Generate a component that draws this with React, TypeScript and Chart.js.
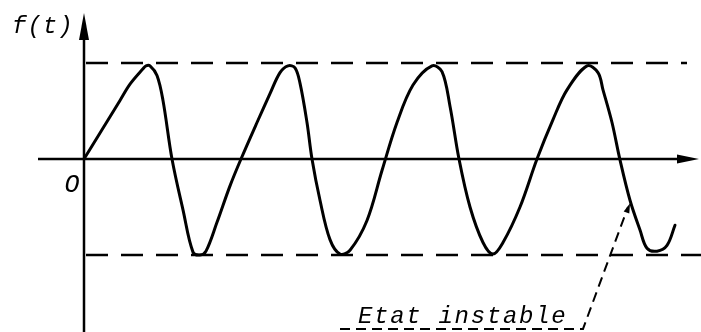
import React, { useEffect, useRef } from "react";
import { Chart, registerables } from "chart.js";

Chart.register(...registerables);

// Curve f(t)
const tValues = [0, 1.6, 3.6, 4.6, 5.9, 6.2, 6.6, 7.3, 7.9, 8.8, 9.9, 10.9, 11.6, 12.2, 13.3, 14.6, 15.7, 17.3, 18.6, 19.6, 20.4, 21.1, 21.6, 22.3, 22.8, 23.6, 24.6, 25.6, 26.6, 28.3, 29.8, 31.3, 32.9, 34.8, 35.8, 36.6, 37.5, 38.6, 39.9, 40.9, 41.9, 43.6, 45.3, 46.9, 48.3, 50.3, 51.4, 51.9, 52.8, 53.6, 54.6, 55.6, 56.3, 57.3, 58.3, 59.1];
const fValues = [0, 0.27, 0.61, 0.78, 0.94, 0.97, 0.97, 0.87, 0.61, 0, -0.53, -0.97, -1.0, -0.96, -0.66, -0.28, 0, 0.38, 0.68, 0.9, 0.97, 0.95, 0.79, 0.38, 0, -0.43, -0.84, -0.99, -0.95, -0.64, -0.12, 0.38, 0.77, 0.97, 0.91, 0.55, 0, -0.5, -0.87, -0.99, -0.87, -0.5, 0, 0.41, 0.72, 0.97, 0.9, 0.72, 0.38, -0.01, -0.43, -0.74, -0.93, -0.96, -0.9, -0.69];

// Dashed bounds
const boundLevels = [1, -1];
const topBoundT = [0.2, 60.3];
const bottomBoundT = [0.2, 61.7];

// Axes
const hAxisT = [-4.6, 59.6];
const hArrowT = [59.3, 61.5];
const vAxisF = [-1.81, 1.24];
const vArrowF = [1.24, 1.52];

// Annotation "Etat instable"
const noteLineT = [25.6, 49.9, 54.4];
const noteLineF = [-1.77, -1.77, -0.5];
const noteArrowTipT = 54.6;
const noteArrowTipF = -0.46;
const noteText = "Etat instable";
const noteTextT = 27.4;
const noteTextF = -1.71;

// Axis labels
const yLabel = "f(t)";
const yLabelT = -7.2;
const yLabelF = 1.31;
const originLabel = "O";
const originLabelT = -1.2;
const originLabelF = -0.28;

const X_MIN = -8.4;
const X_MAX = 61.7;
const Y_MIN = -1.802;
const Y_MAX = 1.656;

const decorPlugin = {
  id: "decor",
  afterDatasetsDraw(chart: any) {
    const ctx = chart.ctx as CanvasRenderingContext2D;
    const xs = chart.scales.x;
    const ys = chart.scales.y;
    const px = (v: number) => xs.getPixelForValue(v);
    const py = (v: number) => ys.getPixelForValue(v);
    ctx.save();
    ctx.fillStyle = "#000";
    // horizontal axis arrow
    const hy = py(0);
    ctx.beginPath();
    ctx.moveTo(px(hArrowT[1]), hy);
    ctx.lineTo(px(hArrowT[0]), hy - 4.5);
    ctx.lineTo(px(hArrowT[0]), hy + 4.5);
    ctx.closePath();
    ctx.fill();
    // vertical axis arrow
    const vx = px(0);
    ctx.beginPath();
    ctx.moveTo(vx, py(vArrowF[1]));
    ctx.lineTo(vx - 5, py(vArrowF[0]));
    ctx.lineTo(vx + 5, py(vArrowF[0]));
    ctx.closePath();
    ctx.fill();
    // note arrow head
    const tx = px(noteArrowTipT);
    const ty = py(noteArrowTipF);
    const bx = px(noteLineT[1]);
    const by = py(noteLineF[1]);
    const ang = Math.atan2(ty - by, tx - bx);
    const len = 10;
    const w = 3;
    ctx.beginPath();
    ctx.moveTo(tx, ty);
    ctx.lineTo(tx - len * Math.cos(ang) - w * Math.sin(ang), ty - len * Math.sin(ang) + w * Math.cos(ang));
    ctx.lineTo(tx - len * Math.cos(ang) + w * Math.sin(ang), ty - len * Math.sin(ang) - w * Math.cos(ang));
    ctx.closePath();
    ctx.fill();
    // texts
    ctx.textBaseline = "alphabetic";
    ctx.textAlign = "left";
    (ctx as any).letterSpacing = "1px";
    ctx.font = "italic 24px 'Liberation Mono'";
    ctx.fillText(yLabel, px(yLabelT), py(yLabelF));
    (ctx as any).letterSpacing = "1.7px";
    ctx.font = "italic 24px 'Liberation Mono'";
    ctx.fillText(noteText, px(noteTextT), py(noteTextF));
    (ctx as any).letterSpacing = "0px";
    ctx.font = "italic 25px 'Liberation Mono'";
    ctx.textAlign = "center";
    ctx.textBaseline = "middle";
    ctx.fillText(originLabel, px(originLabelT), py(originLabelF));
    ctx.restore();
  },
};

export default function App() {
  const ref = useRef<HTMLCanvasElement | null>(null);
  useEffect(() => {
    if (!ref.current) return;
    const line = (pts: { x: number; y: number }[], width: number, dash: number[] = []) => ({
      data: pts,
      borderColor: "#000",
      borderWidth: width,
      borderDash: dash,
      pointRadius: 0,
      tension: 0,
      fill: false,
    });
    const chart = new Chart(ref.current, {
      type: "line",
      data: {
        datasets: [
          {
            data: tValues.map((t, i) => ({ x: t, y: fValues[i] })),
            borderColor: "#000",
            borderWidth: 3,
            pointRadius: 0,
            tension: 0.35,
            borderJoinStyle: "round",
            borderCapStyle: "round",
            fill: false,
          } as any,
          line(topBoundT.map((t) => ({ x: t, y: boundLevels[0] })), 2.5, [22, 13]),
          line(bottomBoundT.map((t) => ({ x: t, y: boundLevels[1] })), 2.5, [22, 13]),
          line(hAxisT.map((t) => ({ x: t, y: 0 })), 2.5),
          line(vAxisF.map((f) => ({ x: 0, y: f })), 2.5),
          line(noteLineT.map((t, i) => ({ x: t, y: noteLineF[i] })), 2, [10, 6]),
        ],
      },
      options: {
        responsive: false,
        animation: false,
        layout: { padding: 0 },
        plugins: { legend: { display: false }, tooltip: { enabled: false } },
        scales: {
          x: { type: "linear", min: X_MIN, max: X_MAX, display: false },
          y: { type: "linear", min: Y_MIN, max: Y_MAX, display: false },
        },
      },
      plugins: [decorPlugin],
    });
    return () => chart.destroy();
  }, []);
  return (
    <div style={{ position: "fixed", left: 0, top: 0, width: 701, height: 332, background: "#fff" }}>
      <canvas ref={ref} width={701} height={332} />
    </div>
  );
}
